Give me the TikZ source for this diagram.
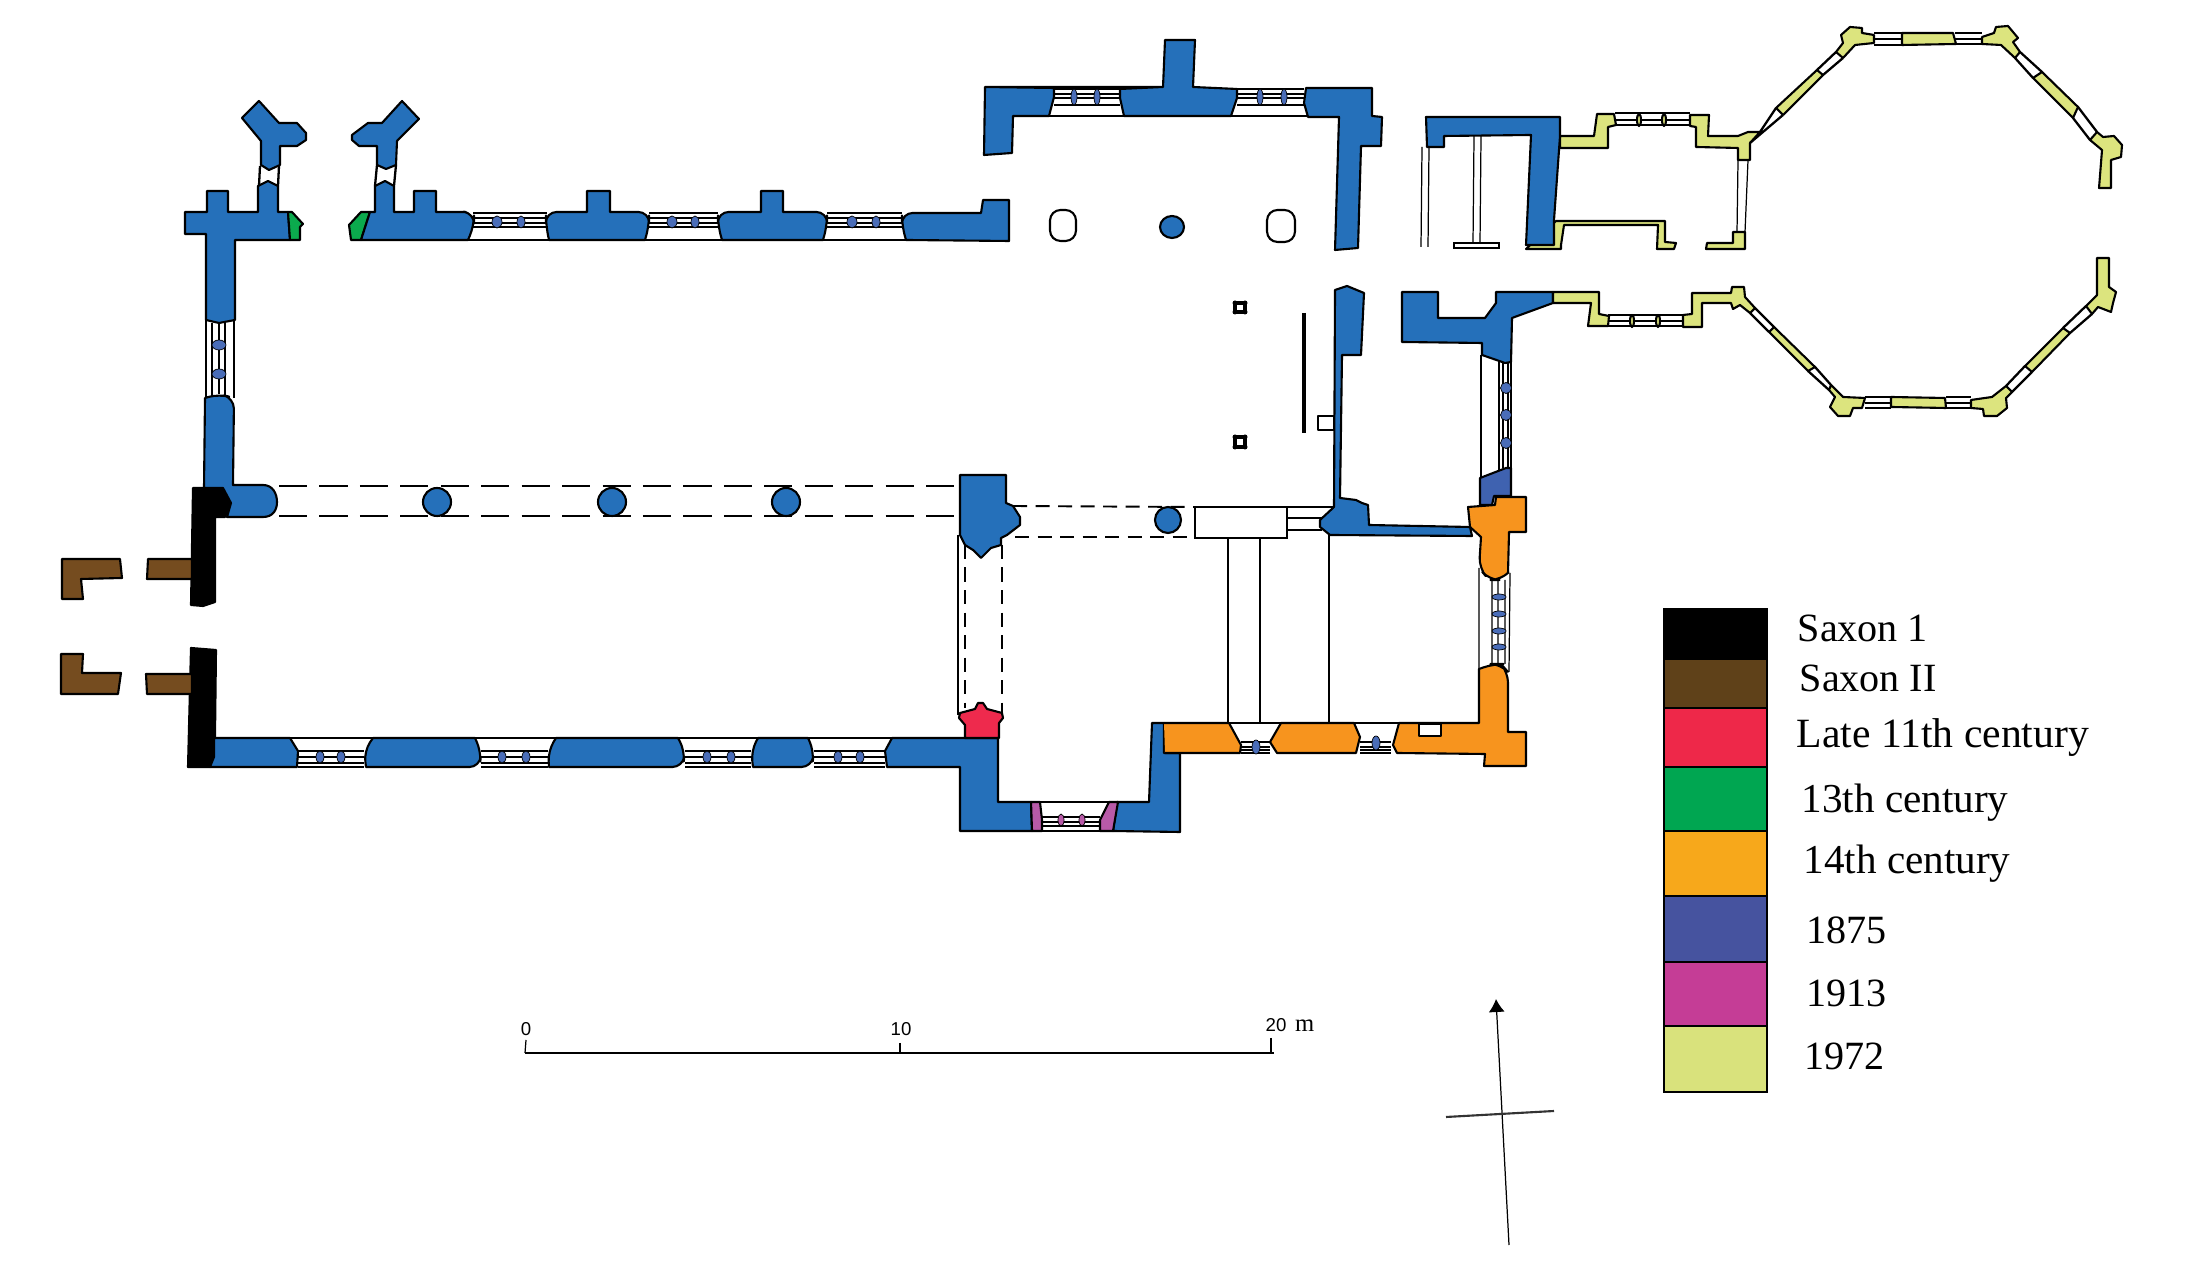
\documentclass[tikz,border=0pt]{standalone}
\usepackage{fontspec}
\setmainfont{Liberation Serif}
\newfontfamily\scalefont{Liberation Sans}
\usepackage{tikz}
\usetikzlibrary{arrows.meta}
\definecolor{planblue}{HTML}{2570BA}
\definecolor{panesblue}{HTML}{4A6DB8}
\definecolor{lateblue}{HTML}{3F62B0}
\definecolor{planbrown}{HTML}{754C1F}
\definecolor{planred}{HTML}{EE2A4D}
\definecolor{plangreen}{HTML}{0BAA4D}
\definecolor{planorange}{HTML}{F7941E}
\definecolor{planmagenta}{HTML}{B85AA8}
\definecolor{planyellow}{HTML}{DCE47E}
\definecolor{keybrown}{HTML}{5F4119}
\definecolor{keyred}{HTML}{EE2849}
\definecolor{keygreen}{HTML}{00A651}
\definecolor{keyorange}{HTML}{F7A81B}
\definecolor{keyblue}{HTML}{46539F}
\definecolor{keymagenta}{HTML}{C53D96}
\definecolor{keyyellow}{HTML}{D9E27C}
\newcommand{\glazing}[6]{\draw[glass] (#1,#3) -- (#2,#3) (#1,#4) -- (#2,#4) (#1,#5) -- (#2,#5) (#1,#6) -- (#2,#6);}
\begin{document}
\begin{tikzpicture}[x=0.01cm,y=-0.01cm,
    wall/.style={draw=black,line width=.6pt,line join=round},
    glass/.style={draw=black,line width=.65pt},
    hair/.style={draw=black,line width=.35pt},
    gone/.style={draw=black,line width=.5pt,dash pattern=on 8pt off 3.5pt},
    goneshort/.style={draw=black,line width=.55pt,dash pattern=on 4pt off 2.4pt},
    mullion/.style={draw=black,line width=.2pt,fill=panesblue},
    swatch/.style={draw=black,line width=.5pt},
    keylabel/.style={anchor=base west,inner sep=0pt,font=\fontsize{11.4}{12}\selectfont},
    longlabel/.style={keylabel,font=\fontsize{11.7}{12}\selectfont},
    scalelabel/.style={anchor=center,inner sep=0pt,font=\scalefont\fontsize{5.3}{6}\selectfont}]

    \useasboundingbox (0,0) rectangle (2209,1280);

    \draw[wall,fill=black] (193,488) -- (223,488) -- (231,503) -- (225,517) -- (215,517) -- (215,602) -- (203,606) -- (191,605) -- cycle;
    \draw[wall,fill=black] (191,648) -- (216,650) -- (215,737) -- (214,757) -- (210,767) -- (188,767) -- cycle;

    \draw[wall,fill=planbrown] (62,559) -- (120,559) -- (122,578) -- (81,579) -- (83,599) -- (62,599) -- cycle;
    \draw[wall,fill=planbrown] (148,559) -- (192,559) -- (192,579) -- (147,579) -- cycle;
    \draw[wall,fill=planbrown] (61,654) -- (83,654) -- (82,673) -- (121,673) -- (118,694) -- (61,694) -- cycle;
    \draw[wall,fill=planbrown] (146,674) -- (192,674) -- (192,694) -- (147,694) -- cycle;

    \draw[wall,fill=planblue] (185,212) -- (207,212) -- (207,191) -- (228,191) -- (228,212) -- (258,212) -- (258,186) -- (268,181) -- (278,186) -- (278,212) -- (288,212) -- (290,240) -- (235,240) -- (235,320) -- (219,323) -- (206,320) -- (206,234) -- (185,234) -- cycle;
    \draw[wall,fill=plangreen] (288,212) -- (292,212) -- (303,224) -- (300,227) -- (300,240) -- (290,240) -- cycle;
    \draw[wall,fill=planblue] (205,398) [rounded corners=3pt] -- (219,394) -- (234,398) [sharp corners] -- (233,485) -- (263,485) .. controls (273,485) and (277,494) .. (277,502) .. controls (277,510) and (273,517) .. (263,517) -- (227,517) -- (231,503) -- (223,488) -- (204,488) -- cycle;
    \draw[glass] (206,320) -- (206,398) (234,320) -- (234,398) (212,323) -- (212,396) (219,323) -- (219,394) (225,323) -- (225,396);
    \draw[mullion] (219,345) ellipse [x radius=7,y radius=5];
    \draw[mullion] (219,374) ellipse [x radius=7,y radius=5];

    \draw[wall,fill=planblue] (259,101) -- (279,123) -- (297,123) -- (306,133) -- (306,140) -- (297,146) -- (280,146) -- (280,165) -- (269,170) -- (261,165) -- (261,141) -- (242,118) -- cycle;
    \draw[glass] (260,166) -- (259,186) (279,166) -- (278,186);
    \draw[wall,fill=planblue] (402,101) -- (419,119) -- (397,141) -- (396,165) -- (386,169) -- (377,165) -- (377,146) -- (359,146) -- (352,140) -- (352,135) -- (368,123) -- (382,123) -- cycle;
    \draw[glass] (377,165) -- (375,186) (396,165) -- (394,186);

    \draw[wall,fill=plangreen] (349,225) -- (361,212) -- (370,212) -- (361,240) -- (351,240) -- cycle;
    \draw[wall,fill=planblue] (370,212) -- (375,212) -- (375,186) -- (385,181) -- (394,186) -- (394,212) -- (414,212) -- (414,191) -- (436,191) -- (436,212) -- (466,212) [rounded corners=3pt] -- (474,213) -- (474,226) [sharp corners] -- (468,240) -- (361,240) -- cycle;
    \draw[wall,fill=planblue] (549,240) [rounded corners=3pt] -- (546,226) -- (546,212) [sharp corners] -- (587,212) -- (587,191) -- (610,191) -- (610,212) [rounded corners=3pt] -- (649,212) -- (649,226) [sharp corners] -- (645,240) -- cycle;
    \draw[wall,fill=planblue] (722,240) [rounded corners=3pt] -- (718,226) -- (718,212) [sharp corners] -- (761,212) -- (761,191) -- (783,191) -- (783,212) [rounded corners=3pt] -- (827,212) -- (827,226) [sharp corners] -- (823,240) -- cycle;
    \draw[wall,fill=planblue] (906,240) [rounded corners=3pt] -- (902,226) -- (902,213) [sharp corners] -- (981,213) -- (983,200) -- (1009,200) -- (1009,241) -- cycle;
    \glazing{473}{547}{213}{218}{223}{227}
    \glazing{649}{718}{213}{218}{223}{227}
    \glazing{827}{902}{213}{218}{223}{227}
    \draw[glass] (468,240) -- (549,240) (645,240) -- (722,240) (823,240) -- (906,240);
    \draw[mullion] (497,222) ellipse [x radius=5,y radius=6];
    \draw[mullion] (521,222) ellipse [x radius=4,y radius=6];
    \draw[mullion] (672,222) ellipse [x radius=5,y radius=6];
    \draw[mullion] (695,222) ellipse [x radius=4,y radius=6];
    \draw[mullion] (852,222) ellipse [x radius=5,y radius=6];
    \draw[mullion] (876,222) ellipse [x radius=4,y radius=6];

    \draw[gone] (279,486) -- (960,486);
    \draw[gone] (279,516) -- (960,516);
    \draw[wall,fill=planblue] (437,502) ellipse [x radius=14,y radius=14];
    \draw[wall,fill=planblue] (612,502) ellipse [x radius=14,y radius=14];
    \draw[wall,fill=planblue] (786,502) ellipse [x radius=14,y radius=14];

    \draw[wall,fill=planblue] (214,738) -- (290,738) -- (298,751) -- (297,767) -- (210,767) -- (214,757) -- cycle;
    \draw[wall,fill=planblue] (373,738) -- (475,738) [rounded corners=3pt] -- (481,751) -- (480,767) [sharp corners] -- (366,767) [rounded corners=3pt] -- (364,751) [sharp corners] -- cycle;
    \draw[wall,fill=planblue] (556,738) -- (678,738) [rounded corners=3pt] -- (685,751) -- (683,767) [sharp corners] -- (549,767) [rounded corners=3pt] -- (548,751) [sharp corners] -- cycle;
    \draw[wall,fill=planblue] (758,738) -- (808,738) [rounded corners=3pt] -- (814,751) -- (812,767) [sharp corners] -- (753,767) [rounded corners=3pt] -- (751,751) [sharp corners] -- cycle;
    \draw[wall,fill=planblue] (892,738) -- (998,738) -- (998,802) -- (1031,802) -- (1032,831) -- (960,831) -- (960,767) -- (887,767) -- (885,751) -- cycle;
    \glazing{298}{364}{751}{757}{763}{767}
    \glazing{481}{548}{751}{757}{763}{767}
    \glazing{685}{751}{751}{757}{763}{767}
    \glazing{814}{885}{751}{757}{763}{767}
    \draw[glass] (290,738) -- (373,738) (475,738) -- (556,738) (678,738) -- (758,738) (808,738) -- (892,738);
    \draw[mullion] (320,757) ellipse [x radius=4,y radius=6];
    \draw[mullion] (341,757) ellipse [x radius=4,y radius=6];
    \draw[mullion] (502,757) ellipse [x radius=4,y radius=6];
    \draw[mullion] (526,757) ellipse [x radius=4,y radius=6];
    \draw[mullion] (707,757) ellipse [x radius=4,y radius=6];
    \draw[mullion] (731,757) ellipse [x radius=4,y radius=6];
    \draw[mullion] (838,757) ellipse [x radius=4,y radius=6];
    \draw[mullion] (860,757) ellipse [x radius=4,y radius=6];

    \draw[wall,fill=planred] (965,738) -- (999,738) -- (999,723) -- (1003,718) -- (1002,713) -- (987,709) -- (983,703) -- (978,703) -- (975,709) -- (960,713) -- (959,718) -- (965,725) -- cycle;
    \draw[wall,fill=planblue] (960,475) -- (1006,475) -- (1006,503) -- (1013,506) -- (1020,517) -- (1020,525) -- (1007,535) -- (1001,538) -- (1001,545) -- (991,548) -- (981,558) -- (973,550) -- (965,545) -- (960,535) -- cycle;

    \draw[hair] (958,535) -- (958,715);
    \draw[goneshort] (965,545) -- (965,708);
    \draw[goneshort] (1002,545) -- (1002,715);
    \draw[goneshort] (1013,506) -- (1195,507);
    \draw[goneshort] (1015,537) -- (1192,537);
    \draw[wall,fill=planblue] (1168,520) ellipse [x radius=13,y radius=13];

    \draw[hair] (1195,507) rectangle (1287,538);
    \draw[hair] (1287,507) -- (1333,507) (1287,518) -- (1322,518) (1287,530) -- (1322,530);
    \draw[hair] (1228,538) -- (1228,722) (1260,538) -- (1260,722) (1329,535) -- (1329,722);

    \draw[wall,fill=planblue] (1152,723) -- (1164,723) -- (1164,753) -- (1180,753) -- (1180,832) -- (1113,831) -- (1117,802) -- (1149,802) -- cycle;
    \draw[wall,fill=planmagenta] (1031,802) -- (1040,802) -- (1042,820) -- (1042,831) -- (1032,831) -- cycle;
    \draw[wall,fill=planmagenta] (1109,802) -- (1118,802) -- (1113,831) -- (1100,831) -- (1100,820) -- cycle;
    \glazing{1042}{1100}{817}{822}{826}{831}
    \draw[glass] (1040,802) -- (1109,802);
    \draw[mullion,fill=planmagenta] (1061,820) ellipse [x radius=3,y radius=6];
    \draw[mullion,fill=planmagenta] (1082,820) ellipse [x radius=3,y radius=6];

    \fill[planorange] (1164,723) -- (1229,723) -- (1241,745) -- (1240,753) -- (1165,753) -- cycle;
    \draw[wall] (1164,723) -- (1229,723) -- (1241,745) -- (1240,753) -- (1165,753);
    \draw[wall,fill=planorange] (1281,723) -- (1354,723) -- (1360,737) -- (1356,753) -- (1277,753) -- (1270,742) -- cycle;
    \draw[wall,fill=planorange] (1479,669) [rounded corners=3pt] -- (1493,664) -- (1501,664) -- (1508,672) [sharp corners] -- (1508,732) -- (1526,732) -- (1526,766) -- (1484,766) -- (1485,754) -- (1397,753) -- (1393,745) -- (1399,723) -- (1479,723) -- cycle;
    \draw[wall,fill=white] (1419,724) rectangle (1441,736);
    \glazing{1241}{1270}{742}{747}{750}{753}
    \glazing{1360}{1391}{742}{747}{750}{753}
    \draw[glass] (1229,723) -- (1281,723) (1354,723) -- (1399,723);
    \draw[mullion] (1256,747) ellipse [x radius=4,y radius=7];
    \draw[mullion] (1376,743) ellipse [x radius=4,y radius=7];

    \draw[wall,fill=lateblue] (1480,478) -- (1506,468) -- (1511,468) -- (1511,496) -- (1494,496) -- (1492,505) -- (1480,505) -- cycle;
    \draw[wall,fill=planorange] (1468,507) -- (1495,505) -- (1496,497) -- (1526,497) -- (1526,532) -- (1509,532) -- (1508,573) [rounded corners=3pt] -- (1501,580) -- (1489,580) -- (1479,568) [sharp corners] -- (1481,537) -- (1470,527) -- cycle;
    \draw[hair] (1479,568) -- (1479,669) (1510,573) -- (1509,672) (1492,580) -- (1492,664) (1498,580) -- (1498,664) (1505,580) -- (1505,664);
    \draw[mullion] (1499,597) ellipse [x radius=7,y radius=3];
    \draw[mullion] (1499,614) ellipse [x radius=7,y radius=3];
    \draw[mullion] (1499,631) ellipse [x radius=7,y radius=3];
    \draw[mullion] (1499,647) ellipse [x radius=7,y radius=3];

    \draw[wall,fill=planblue] (985,87) -- (1163,87) -- (1165,40) -- (1195,40) -- (1193,87) -- (1237,89) -- (1237,98) -- (1231,116) -- (1124,116) -- (1120,98) -- (1120,89) -- (1163,87) -- (985,87) -- (1054,88) -- (1054,97) -- (1049,116) -- (1013,116) -- (1012,153) -- (984,155) -- cycle;
    \draw[wall,fill=planblue] (1306,88) -- (1372,88) -- (1372,116) -- (1382,117) -- (1381,146) -- (1361,146) -- (1358,248) -- (1335,250) -- (1339,117) -- (1308,117) -- (1304,103) -- cycle;
    \glazing{1054}{1120}{89}{94}{98}{105}
    \glazing{1237}{1304}{89}{94}{98}{105}
    \draw[glass] (1049,116) -- (1124,116) (1231,116) -- (1308,116);
    \draw[mullion] (1074,97) ellipse [x radius=3,y radius=8];
    \draw[mullion] (1097,97) ellipse [x radius=3,y radius=8];
    \draw[mullion] (1260,97) ellipse [x radius=3,y radius=8];
    \draw[mullion] (1284,97) ellipse [x radius=3,y radius=8];

    \draw[wall,rounded corners=3pt] (1050,210) rectangle (1076,241);
    \draw[wall,rounded corners=3pt] (1267,210) rectangle (1295,242);
    \draw[wall,fill=planblue] (1172,227) ellipse [x radius=12,y radius=11];
    \draw[wall,line width=.9pt] (1235,303) rectangle (1245,312);
    \draw[wall,line width=.9pt] (1235,437) rectangle (1245,447);
    \fill (1235,303) circle [radius=2.5] (1245,303) circle [radius=2.5] (1235,312) circle [radius=2.5] (1245,312) circle [radius=2.5];
    \fill (1235,437) circle [radius=2.5] (1245,437) circle [radius=2.5] (1235,447) circle [radius=2.5] (1245,447) circle [radius=2.5];
    \draw[wall,line width=.9pt] (1304,313) -- (1304,433);
    \draw[wall] (1318,416) rectangle (1334,430);

    \draw[wall,fill=planblue] (1335,290) -- (1347,286) -- (1364,293) -- (1361,355) -- (1342,355) -- (1340,498) -- (1356,500) -- (1362,503) -- (1368,505) -- (1369,525) -- (1470,527) -- (1472,536) -- (1330,535) -- (1320,527) -- (1320,520) -- (1334,507) -- cycle;

    \draw[wall,fill=planyellow] (1560,136) -- (1594,136) -- (1597,114) -- (1614,114) -- (1616,125) -- (1608,127) -- (1608,148) -- (1560,148) -- cycle;
    \draw[wall,fill=planyellow] (1690,115) -- (1709,115) -- (1708,136) -- (1738,136) -- (1748,132) -- (1760,132) -- (1750,143) -- (1750,160) -- (1738,160) -- (1738,148) -- (1696,147) -- (1696,127) -- (1690,126) -- cycle;
    \draw[glass] (1615,113) -- (1690,113) (1615,120) -- (1690,120) (1615,125) -- (1690,125);
    \draw[wall,fill=planyellow] (1639,120) ellipse [x radius=2,y radius=6];
    \draw[wall,fill=planyellow] (1664,120) ellipse [x radius=2,y radius=6];
    \draw[hair] (1738,160) -- (1737,232) (1748,160) -- (1745,232);
    \draw[wall,fill=planyellow] (1733,232) -- (1745,232) -- (1745,249) -- (1706,249) -- (1707,243) -- (1733,243) -- cycle;
    \draw[wall,fill=planyellow] (1556,221) -- (1665,221) -- (1665,242) -- (1676,243) -- (1674,249) -- (1657,249) -- (1658,225) -- (1564,225) -- (1561,245) -- (1561,249) -- (1526,249) -- cycle;

    \draw[wall,fill=planblue] (1426,117) -- (1560,117) -- (1560,136) -- (1554,220) -- (1554,245) -- (1526,245) -- (1531,135) -- (1444,136) -- (1444,147) -- (1427,147) -- cycle;
    \draw[hair] (1422,147) -- (1421,247) (1429,147) -- (1428,247) (1474,136) -- (1473,243) (1481,136) -- (1480,243);
    \draw[glass] (1454,243) rectangle (1499,248);

    \draw[wall,fill=planyellow] (1841,35) -- (1850,27) -- (1862,28) -- (1862,33) -- (1874,35) -- (1874,43) -- (1855,45) -- (1843,58) -- (1836,52) -- (1843,43) -- cycle;
    \draw[wall,fill=planyellow] (1902,33) -- (1953,33) -- (1956,44) -- (1902,45) -- cycle;
    \draw[wall,fill=planyellow] (1982,37) -- (1994,33) -- (1996,27) -- (2008,26) -- (2018,38) -- (2013,42) -- (2020,52) -- (2015,58) -- (2001,45) -- (1982,44) -- cycle;
    \draw[wall,fill=planyellow] (2042,72) -- (2078,107) -- (2073,118) -- (2033,78) -- cycle;
    \draw[wall,fill=planyellow] (2097,132) -- (2103,137) -- (2114,136) -- (2122,145) -- (2121,157) -- (2111,160) -- (2111,188) -- (2099,188) -- (2102,150) -- (2090,140) -- cycle;
    \draw[wall,fill=planyellow] (1817,70) -- (1823,75) -- (1783,115) -- (1776,108) -- cycle;
    \draw[glass] (1874,33) -- (1902,33) (1874,39) -- (1902,39) (1874,45) -- (1902,45) (1955,33) -- (1982,33) (1955,39) -- (1982,39) (1955,44) -- (1982,44);
    \draw[glass] (1836,52) -- (1817,70) (1843,58) -- (1823,75) (1776,108) -- (1760,132) (1783,115) -- (1750,143);
    \draw[glass] (2020,52) -- (2042,72) (2015,58) -- (2033,78) (2078,107) -- (2097,132) (2073,118) -- (2090,140);

    \draw[wall,fill=planblue] (1402,292) -- (1438,292) -- (1438,318) -- (1485,318) -- (1496,303) -- (1496,292) -- (1553,292) -- (1553,303) -- (1512,318) -- (1511,362) -- (1505,363) -- (1482,355) -- (1482,343) -- (1402,342) -- cycle;
    \draw[hair] (1481,355) -- (1481,478) (1499,361) -- (1499,470) (1511,362) -- (1511,468) (1503,362) -- (1503,468) (1508,362) -- (1508,468);
    \draw[mullion] (1506,388) circle [radius=5.5];
    \draw[mullion] (1506,415) circle [radius=5.5];
    \draw[mullion] (1506,443) circle [radius=5.5];

    \draw[wall,fill=planyellow] (1553,292) -- (1599,292) -- (1599,314) -- (1609,316) -- (1608,326) -- (1588,326) -- (1591,303) -- (1553,303) -- cycle;
    \draw[wall,fill=planyellow] (1683,315) -- (1692,314) -- (1692,293) -- (1731,293) -- (1732,287) -- (1744,287) -- (1745,297) -- (1755,308) -- (1750,313) -- (1740,305) -- (1733,309) -- (1731,303) -- (1702,303) -- (1702,327) -- (1683,327) -- cycle;
    \draw[glass] (1608,315) -- (1683,315) (1608,321) -- (1683,321) (1608,326) -- (1683,326);
    \draw[wall,fill=planyellow] (1632,321) ellipse [x radius=2,y radius=6];
    \draw[wall,fill=planyellow] (1658,321) ellipse [x radius=2,y radius=6];
    \draw[wall,fill=planyellow] (1774,327) -- (1815,367) -- (1808,371) -- (1769,332) -- cycle;
    \draw[wall,fill=planyellow] (1831,385) -- (1843,397) -- (1865,398) -- (1862,408) -- (1853,408) -- (1850,416) -- (1838,416) -- (1830,407) -- (1835,397) -- (1829,390) -- cycle;
    \draw[wall,fill=planyellow] (1891,397) -- (1945,398) -- (1946,408) -- (1891,407) -- cycle;
    \draw[wall,fill=planyellow] (1971,400) -- (1992,397) -- (2006,386) -- (2012,392) -- (2006,398) -- (2007,408) -- (1997,416) -- (1984,416) -- (1983,409) -- (1971,408) -- cycle;
    \draw[wall,fill=planyellow] (2025,366) -- (2063,328) -- (2070,333) -- (2032,372) -- cycle;
    \draw[wall,fill=planyellow] (2086,306) -- (2097,295) -- (2097,258) -- (2109,258) -- (2109,287) -- (2116,292) -- (2113,303) -- (2111,312) -- (2098,307) -- (2092,314) -- cycle;
    \draw[glass] (1865,397) -- (1891,397) (1865,403) -- (1891,403) (1865,408) -- (1891,408) (1946,397) -- (1971,397) (1946,403) -- (1971,403) (1946,408) -- (1971,408);
    \draw[glass] (1755,308) -- (1774,327) (1750,313) -- (1769,332) (1815,367) -- (1831,385) (1808,371) -- (1829,390);
    \draw[glass] (2006,386) -- (2025,366) (2012,392) -- (2032,372) (2063,328) -- (2086,306) (2070,333) -- (2092,314);

    \draw[swatch,fill=black] (1664,609) rectangle (1767,659);
    \draw[swatch,fill=keybrown] (1664,659) rectangle (1767,708);
    \draw[swatch,fill=keyred] (1664,708) rectangle (1767,767);
    \draw[swatch,fill=keygreen] (1664,767) rectangle (1767,831);
    \draw[swatch,fill=keyorange] (1664,831) rectangle (1767,896);
    \draw[swatch,fill=keyblue] (1664,896) rectangle (1767,962);
    \draw[swatch,fill=keymagenta] (1664,962) rectangle (1767,1026);
    \draw[swatch,fill=keyyellow] (1664,1026) rectangle (1767,1092);

    \node[keylabel] (saxona) at (1797,642) {Saxon 1};
    \node[keylabel] (saxonb) at (1799,692) {Saxon II};
    \node[longlabel,font=\fontsize{11.85}{12}\selectfont] (late) at (1796,748) {Late 11th century};
    \node[longlabel] (thirteen) at (1801,813) {13th century};
    \node[longlabel] (fourteen) at (1803,874) {14th century};
    \node[keylabel] (yeara) at (1806,944) {1875};
    \node[keylabel] (yearb) at (1806,1007) {1913};
    \node[keylabel] (yearc) at (1804,1070) {1972};

    \node[scalelabel] (zero) at (526,1029) {0};
    \node[scalelabel] (ten) at (901,1029) {10};
    \node[scalelabel,anchor=west] (twenty) at (1265,1025) {20\hspace{2.5pt}{\rmfamily\fontsize{7}{7}\selectfont m}};

    \coordinate (sa) at (525,1053);
    \coordinate (sb) at (900,1053);
    \coordinate (sc) at (1274,1053);
    \draw[line width=.45pt] (sa) -- (sb);
    \draw[line width=.8pt] (sb) -- (sc);
    \draw[line width=.35pt] (526,1040) -- (sa);
    \draw[line width=.35pt] (900,1043) -- (sb);
    \draw[line width=.5pt] (1271,1038) -- (1271,1053);

    \coordinate (northfoot) at (1509,1245);
    \coordinate (northhead) at (1496,999);
    \coordinate (crossa) at (1446,1117);
    \coordinate (crossb) at (1554,1111);
    \draw[line width=.35pt,-{Latex[length=13*0.2845pt,width=16*0.2845pt]}] (northfoot) -- (northhead);
    \draw[line width=.6pt,black!80] (crossa) -- (crossb);
\end{tikzpicture}
\end{document}
